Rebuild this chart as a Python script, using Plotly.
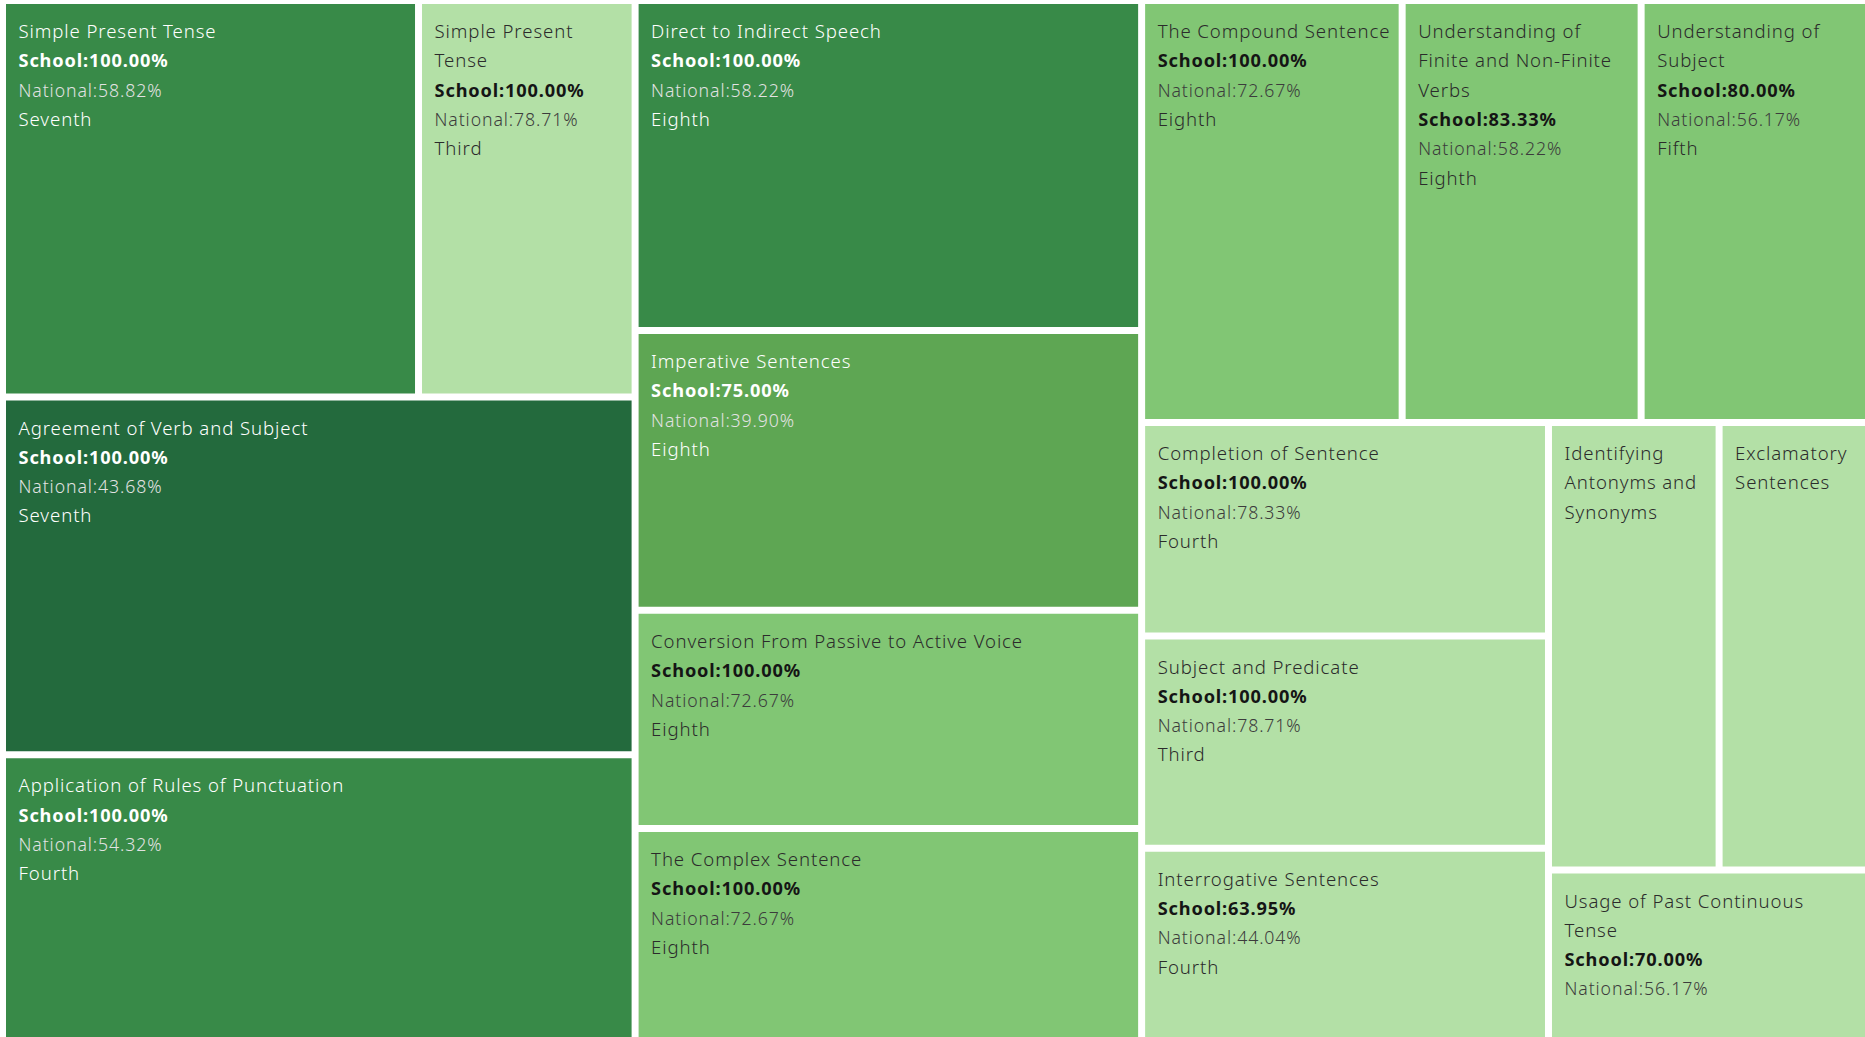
import plotly.graph_objects as go

# ---------------- data ----------------
topics = [
    "Simple Present Tense",
    "Simple Present\nTense",
    "Agreement of Verb and Subject",
    "Application of Rules of Punctuation",
    "Direct to Indirect Speech",
    "Imperative Sentences",
    "Conversion From Passive to Active Voice",
    "The Complex Sentence",
    "The Compound Sentence",
    "Understanding of\nFinite and Non-Finite\nVerbs",
    "Understanding of\nSubject",
    "Completion of Sentence",
    "Subject and Predicate",
    "Interrogative Sentences",
    "Identifying\nAntonyms and\nSynonyms",
    "Exclamatory\nSentences",
    "Usage of Past Continuous\nTense",
]
school = [100.00, 100.00, 100.00, 100.00, 100.00, 75.00, 100.00, 100.00,
          100.00, 83.33, 80.00, 100.00, 100.00, 63.95, None, None, 70.00]
national = [58.82, 78.71, 43.68, 54.32, 58.22, 39.90, 72.67, 72.67,
            72.67, 58.22, 56.17, 78.33, 78.71, 44.04, None, None, 56.17]
grade = ["Seventh", "Third", "Seventh", "Fourth", "Eighth", "Eighth", "Eighth", "Eighth",
         "Eighth", "Eighth", "Fifth", "Fourth", "Third", "Fourth", None, None, None]
size = [165.0, 85.9, 226.5, 180.9, 167.2, 141.9, 110.5, 107.5,
        110.0, 100.9, 96.0, 86.9, 86.4, 78.3, 76.4, 66.9, 54.6]
shade = [2, 0, 4, 2, 2, 1.5, 1, 1, 1, 1, 1, 0, 0, 0, 0, 0, 0]
# layout groups (Tableau-style arrangement)
cell_group = ["col1_top", "col1_top", "col1", "col1", "col2", "col2", "col2", "col2",
              "col3_top", "col3_top", "col3_top", "col3_left", "col3_left", "col3_left",
              "col3_pair", "col3_pair", "col3_right"]
group_ids = ["all", "col1", "col2", "col3", "col1_top", "col3_top", "col3_bottom",
             "col3_left", "col3_right", "col3_pair"]
group_parents = ["", "all", "all", "all", "col1", "col3", "col3",
                 "col3_bottom", "col3_bottom", "col3_right"]

# ---------------- styling ----------------
shade_colors = {0: "#b3e0a6", 1: "#81c674", 1.5: "#5ea653", 2: "#388a48", 4: "#236a3d"}
FONT = "Noto Sans"
LINE = 22.5  # controls line spacing


def build_text(i):
    dark = shade[i] >= 1.5
    c_lab = "#ffffff" if dark else "#2b2b2b"
    c_sch = "#ffffff" if dark else "#151515"
    c_nat = "#e2e2e2" if dark else "#3c3c3c"
    ind = '<span style="font-size:9.5px">\u2003</span>'
    lab = f"font-size:18.6px;letter-spacing:0.9px;font-weight:300;color:{c_lab}"
    sch = f"font-size:18.2px;letter-spacing:0.85px;color:{c_sch}"
    nat = f"font-size:17.7px;letter-spacing:0.9px;font-weight:300;color:{c_nat}"
    lines = ['<span style="font-size:1.5px">\u00a0</span>']
    for part in topics[i].split("\n"):
        lines.append(ind + f'<span style="{lab}">{part}</span>')
    if school[i] is not None:
        lines.append(ind + f'<span style="{sch}"><b>School:{school[i]:.2f}%</b></span>')
    if national[i] is not None:
        lines.append(ind + f'<span style="{nat}">National:{national[i]:.2f}%</span>')
    if grade[i] is not None:
        lines.append(ind + f'<span style="{lab}">{grade[i]}</span>')
    return "<br>".join(lines)


leaf_ids = [f"cell{i}" for i in range(len(topics))]
ids = group_ids + leaf_ids
parents = group_parents + cell_group
labels = group_ids + [t.replace("\n", " ") for t in topics]
values = [0] * len(group_ids) + size
colors = ["#ffffff"] * len(group_ids) + [shade_colors[s] for s in shade]
texts = [""] * len(group_ids) + [build_text(i) for i in range(len(topics))]

fig = go.Figure(go.Treemap(
    ids=ids, labels=labels, parents=parents, values=values,
    branchvalues="remainder", sort=False,
    tiling=dict(packing="slice-dice", pad=7),
    marker=dict(colors=colors, line=dict(width=0), pad=dict(t=0, l=0, r=0, b=0),
                depthfade=False),
    pathbar=dict(visible=False),
    text=texts, textinfo="text", textposition="top left",
    textfont=dict(family=FONT, size=LINE, color="#333333"),
    hoverinfo="skip",
))
fig.update_layout(
    width=1865, height=1037,
    margin=dict(l=6, r=0, t=4, b=0),
    paper_bgcolor="#ffffff",
    uniformtext=dict(minsize=LINE, mode="show"),
)
fig.write_html("out.html", config={"displayModeBar": False},
               post_script="document.body.style.margin='0';document.body.style.overflow='hidden';")
